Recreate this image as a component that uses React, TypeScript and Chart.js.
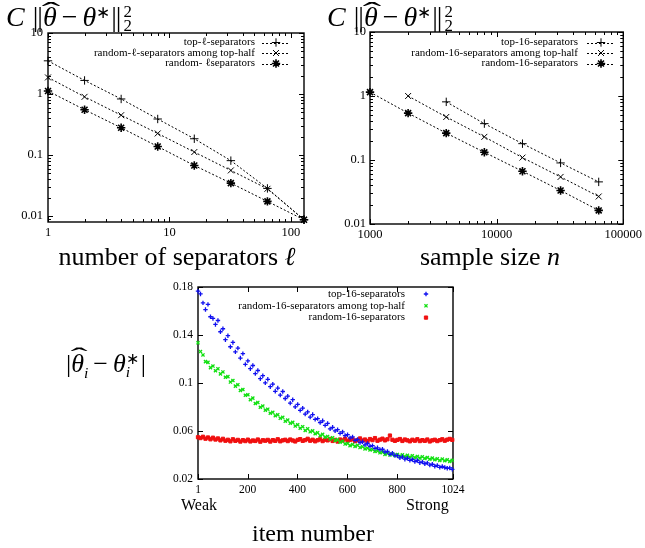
import React, { useEffect, useRef } from 'react';
import { Chart, registerables } from 'chart.js';
import { drawPoint } from 'chart.js/helpers';

Chart.register(...registerables);

const W = 645;
const H = 548;
const SERIF = '"Liberation Serif", "Times New Roman", serif';

// ---------- top-left: error vs number of separators ----------
const SEP_L = [1, 2, 4, 8, 16, 32, 64, 128];
const SEP_TOP = [3.5, 1.67, 0.83, 0.39, 0.185, 0.081, 0.0284, 0.0087];
const SEP_TOPHALF = [1.87, 0.9, 0.45, 0.226, 0.112, 0.056, 0.028, 0.0087];
const SEP_RANDOM = [1.12, 0.553, 0.28, 0.138, 0.0675, 0.0347, 0.0174, 0.0087];
const SEP_X_TICKS = [1, 10, 100];
const SEP_Y_TICKS = [0.01, 0.1, 1, 10];
const SEP_LABELS = ['top-ℓ-separators', 'random-ℓ-separators among top-half', 'random- ℓseparators'];

// ---------- top-right: error vs sample size ----------
const N_TOP_X = [4000, 8000, 16000, 32000, 64000];
const N_TOP = [0.81, 0.37, 0.18, 0.09, 0.0455];
const N_TOPHALF_X = [2000, 4000, 8000, 16000, 32000, 64000];
const N_TOPHALF = [1.0, 0.47, 0.23, 0.109, 0.0544, 0.0269];
const N_RANDOM_X = [1000, 2000, 4000, 8000, 16000, 32000, 64000];
const N_RANDOM = [1.15, 0.54, 0.263, 0.132, 0.0667, 0.0334, 0.0163];
const N_X_TICKS = [1000, 10000, 100000];
const N_Y_TICKS = [0.01, 0.1, 1, 10];
const N_LABELS = ['top-16-separators', 'random-16-separators among top-half', 'random-16-separators'];

// ---------- bottom: per-item error ----------
const ITEMS = Array.from({ length: 103 }, (_, k) => 1 + 10 * k);
const ITEM_TOP = [
  0.1765, 0.1742, 0.1668, 0.1612, 0.1655, 0.1552, 0.1538, 0.1488, 0.1521, 0.1427,
  0.1452, 0.1361, 0.1394, 0.1302, 0.1338, 0.1259, 0.1291, 0.1208, 0.1245, 0.1155,
  0.1184, 0.1119, 0.1146, 0.1078, 0.1104, 0.1036, 0.1061, 0.1001, 0.1031, 0.0969,
  0.0991, 0.0931, 0.0958, 0.0899, 0.0929, 0.0871, 0.0891, 0.0832, 0.0861, 0.0801,
  0.0822, 0.0772, 0.0791, 0.0741, 0.0759, 0.0716, 0.0737, 0.0697, 0.0703, 0.0671,
  0.0685, 0.0647, 0.0663, 0.0618, 0.0631, 0.0601, 0.0611, 0.0581, 0.0592, 0.0562,
  0.0569, 0.0542, 0.0551, 0.0522, 0.0529, 0.0504, 0.0510, 0.0485, 0.0496, 0.0473,
  0.0478, 0.0455, 0.0460, 0.0445, 0.0448, 0.0425, 0.0429, 0.0406, 0.0415, 0.0396,
  0.0394, 0.0376, 0.0385, 0.0365, 0.0373, 0.0355, 0.0363, 0.0346, 0.0354, 0.0336,
  0.0343, 0.0327, 0.0334, 0.0316, 0.0323, 0.0306, 0.0313, 0.0297, 0.0304, 0.0296,
  0.0289, 0.0292, 0.0281,
];
const ITEM_TOPHALF = [
  0.1335, 0.1262, 0.1234, 0.1178, 0.1172, 0.1128, 0.1141, 0.1102, 0.1118, 0.1076,
  0.1092, 0.1048, 0.1053, 0.1008, 0.1021, 0.0974, 0.0986, 0.0938, 0.0946, 0.0898,
  0.0902, 0.0861, 0.0874, 0.0829, 0.0838, 0.0798, 0.0808, 0.0774, 0.0782, 0.0748,
  0.0756, 0.0727, 0.0736, 0.0706, 0.0714, 0.0682, 0.0691, 0.0664, 0.0672, 0.0641,
  0.0652, 0.0623, 0.0636, 0.0604, 0.0618, 0.0593, 0.0601, 0.0577, 0.0586, 0.0561,
  0.0572, 0.0548, 0.0555, 0.0533, 0.0544, 0.0521, 0.0528, 0.0507, 0.0514, 0.0491,
  0.0496, 0.0478, 0.0488, 0.0472, 0.0481, 0.0462, 0.0469, 0.0451, 0.0457, 0.0442,
  0.0446, 0.0429, 0.0433, 0.0418, 0.0424, 0.0405, 0.0414, 0.0401, 0.0409, 0.0396,
  0.0405, 0.0392, 0.0401, 0.0388, 0.0397, 0.0384, 0.0394, 0.0379, 0.0388, 0.0374,
  0.0385, 0.0371, 0.0379, 0.0365, 0.0374, 0.0361, 0.0368, 0.0354, 0.0366, 0.0352,
  0.0361, 0.0347, 0.0356,
];
const ITEM_RANDOM = [
  0.0548, 0.0541, 0.0552, 0.0536, 0.0546, 0.0531, 0.0544, 0.0529, 0.0538, 0.0522,
  0.0535, 0.0519, 0.0527, 0.0514, 0.0531, 0.0518, 0.0526, 0.0512, 0.0524, 0.0516,
  0.0528, 0.0513, 0.0521, 0.0517, 0.0529, 0.0511, 0.0523, 0.0519, 0.0526, 0.0512,
  0.0524, 0.0518, 0.0531, 0.0514, 0.0522, 0.0527, 0.0516, 0.0529, 0.0521, 0.0513,
  0.0526, 0.0532, 0.0518, 0.0524, 0.0535, 0.0519, 0.0527, 0.0514, 0.0523, 0.0531,
  0.0516, 0.0528, 0.0522, 0.0534, 0.0517, 0.0526, 0.0512, 0.0529, 0.0521, 0.0536,
  0.0518, 0.0527, 0.0531, 0.0515, 0.0524, 0.0538, 0.0521, 0.0529, 0.0516, 0.0533,
  0.0524, 0.0541, 0.0519, 0.0528, 0.0536, 0.0522, 0.0531, 0.0562, 0.0527, 0.0518,
  0.0526, 0.0533, 0.0517, 0.0529, 0.0522, 0.0514, 0.0527, 0.0519, 0.0531, 0.0516,
  0.0524, 0.0518, 0.0529, 0.0513, 0.0522, 0.0527, 0.0516, 0.0524, 0.0531, 0.0519,
  0.0528, 0.0534, 0.0526,
];
const ITEM_X_TICKS = [1, 200, 400, 600, 800, 1024];
const ITEM_Y_TICKS = [0.02, 0.06, 0.1, 0.14, 0.18];

// ---------- helpers ----------
function logMinors(min: number, max: number) {
  const out: number[] = [];
  for (let e = Math.floor(Math.log10(min)); e <= Math.ceil(Math.log10(max)); e++) {
    for (let m = 2; m <= 9; m++) {
      const v = m * Math.pow(10, e);
      if (v > min * 1.0001 && v < max * 0.9999) out.push(v);
    }
  }
  return out;
}

const framePlugin = {
  id: 'gframe',
  beforeDatasetsDraw(chart: any, _a: any, o: any) {
    const { ctx, chartArea: a, scales } = chart;
    ctx.save();
    ctx.strokeStyle = '#000';
    ctx.lineWidth = 1;
    const seg = (x1: number, y1: number, x2: number, y2: number) => {
      ctx.beginPath();
      ctx.moveTo(x1, y1);
      ctx.lineTo(x2, y2);
      ctx.stroke();
    };
    const xt = (vals: number[], len: number) => {
      for (const v of vals) {
        const p = Math.round(scales.x.getPixelForValue(v)) + 0.5;
        seg(p, a.bottom, p, a.bottom - len);
        seg(p, a.top, p, a.top + len);
      }
    };
    const yt = (vals: number[], len: number) => {
      for (const v of vals) {
        const p = Math.round(scales.y.getPixelForValue(v)) + 0.5;
        seg(a.left, p, a.left + len, p);
        seg(a.right, p, a.right - len, p);
      }
    };
    xt(o.xMajor || [], 5);
    yt(o.yMajor || [], 5);
    if (o.logX) xt(logMinors(scales.x.min, scales.x.max), 3);
    if (o.logY) yt(logMinors(scales.y.min, scales.y.max), 3);
    ctx.lineWidth = 1.4;
    ctx.strokeRect(a.left, a.top, a.right - a.left, a.bottom - a.top);
    ctx.restore();
  },
};

const legendPlugin = {
  id: 'glegend',
  afterDatasetsDraw(chart: any, _a: any, o: any) {
    const ctx = chart.ctx;
    ctx.save();
    chart.data.datasets.forEach((ds: any, i: number) => {
      const y = o.y + i * o.rowH;
      ctx.font = '11px ' + SERIF;
      ctx.fillStyle = '#000';
      ctx.textAlign = 'right';
      ctx.textBaseline = 'middle';
      ctx.fillText(ds.label, o.textRight, y);
      if (o.lineX1 !== undefined && o.lineX1 !== null) {
        ctx.setLineDash([2, 2]);
        ctx.strokeStyle = ds.borderColor;
        ctx.lineWidth = 1;
        ctx.beginPath();
        ctx.moveTo(o.lineX1, Math.round(y) + 0.5);
        ctx.lineTo(o.lineX2, Math.round(y) + 0.5);
        ctx.stroke();
        ctx.setLineDash([]);
      }
      ctx.strokeStyle = ds.pointBorderColor;
      ctx.fillStyle = ds.pointBackgroundColor;
      ctx.lineWidth = ds.pointBorderWidth;
      drawPoint(ctx, { pointStyle: ds.pointStyle, radius: ds.pointRadius, rotation: 0, borderWidth: ds.pointBorderWidth } as any, o.markerX, y);
    });
    ctx.restore();
  },
};

type Area = { l: number; t: number; r: number; b: number };

function makeScale(type: string, min: number, max: number, ticks: number[], axis: 'x' | 'y', fontSize: number, pad: number) {
  return {
    type,
    min,
    max,
    bounds: 'data',
    grid: { display: false, drawTicks: false },
    border: { display: false },
    ticks: {
      color: '#000',
      font: { family: SERIF, size: fontSize },
      padding: pad,
      autoSkip: false,
      maxRotation: 0,
      callback: (v: any) => String(v),
    },
    afterFit: (s: any) => {
      if (axis === 'x') s.height = 20;
      else s.width = 40;
    },
    afterBuildTicks: (s: any) => {
      s.ticks = ticks.map((v) => ({ value: v }));
      s.min = min;
      s.max = max;
    },
  };
}

function buildChart(canvas: HTMLCanvasElement, cfg: any) {
  const a: Area = cfg.area;
  return new Chart(canvas, {
    type: 'scatter',
    data: { datasets: cfg.datasets },
    options: {
      animation: false,
      responsive: false,
      events: [],
      layout: { padding: { left: a.l - 40, top: a.t, right: W - a.r, bottom: H - a.b - 20 } },
      plugins: {
        legend: { display: false },
        tooltip: { enabled: false },
        gframe: cfg.frame,
        glegend: cfg.legend,
      } as any,
      scales: {
        x: makeScale(cfg.xType, cfg.xMin, cfg.xMax, cfg.xTicks, 'x', cfg.tickFont, cfg.xPad) as any,
        y: makeScale(cfg.yType, cfg.yMin, cfg.yMax, cfg.yTicks, 'y', cfg.tickFont, cfg.yPad) as any,
      },
    },
    plugins: [framePlugin, legendPlugin],
  });
}

function lineSet(label: string, xs: number[], ys: number[], style: string, bw = 1) {
  return {
    label,
    data: xs.map((x, i) => ({ x, y: ys[i] })),
    showLine: true,
    borderColor: '#000',
    backgroundColor: '#000',
    borderWidth: 1,
    borderDash: [2, 2],
    tension: 0,
    pointStyle: style,
    pointRadius: 4.2,
    pointBorderWidth: bw,
    pointBorderColor: '#000',
    pointBackgroundColor: '#000',
    clip: false,
  };
}

function dotSet(label: string, xs: number[], ys: number[], style: string, color: string, r: number, bw: number) {
  return {
    label,
    data: xs.map((x, i) => ({ x, y: ys[i] })),
    showLine: false,
    borderColor: color,
    backgroundColor: color,
    pointStyle: style,
    pointRadius: r,
    pointBorderWidth: bw,
    pointBorderColor: color,
    pointBackgroundColor: color,
    clip: false,
  };
}

const abs = (s: any) => ({ position: 'absolute' as const, whiteSpace: 'nowrap' as const, fontFamily: SERIF, color: '#000', ...s });

function Hat({ children, top }: { children: any; top: string }) {
  return (
    <span style={{ position: 'relative', display: 'inline-block' }}>
      <i>{children}</i>
      <span
        style={{
          position: 'absolute',
          left: '58%',
          top,
          transform: 'translateX(-50%) scale(2.2, 1)',
          fontStyle: 'normal',
          fontSize: '0.9em',
        }}
      >
        ˆ
      </span>
    </span>
  );
}

function Bars() {
  return <span style={{ letterSpacing: -1, margin: '0 1px' }}>||</span>;
}

function Stack() {
  return (
    <span style={{ display: 'inline-block', verticalAlign: '-0.32em', lineHeight: 0.85, fontSize: '0.6em', marginLeft: 2 }}>
      <span style={{ display: 'block' }}>2</span>
      <span style={{ display: 'block' }}>2</span>
    </span>
  );
}

function Title({ left }: { left: number }) {
  return (
    <div style={abs({ left, top: -3, fontSize: 28, lineHeight: '32px' })}>
      <i>C</i>
      <span style={{ marginLeft: 7 }} />
      <Bars />
      <Hat top="-0.2em">θ</Hat>
      <span style={{ margin: '0 5px' }}>−</span>
      <i>θ</i>
      <sup style={{ fontSize: '0.6em', verticalAlign: '0.45em' }}>∗</sup>
      <Bars />
      <Stack />
    </div>
  );
}

export default function App() {
  const c1 = useRef<HTMLCanvasElement>(null);
  const c2 = useRef<HTMLCanvasElement>(null);
  const c3 = useRef<HTMLCanvasElement>(null);

  useEffect(() => {
    const charts: Chart[] = [];
    charts.push(
      buildChart(c1.current!, {
        area: { l: 48, t: 33, r: 304, b: 222 },
        tickFont: 12.5, xPad: 3, yPad: 5,
        xType: 'logarithmic', xMin: 1, xMax: 128, xTicks: SEP_X_TICKS,
        yType: 'logarithmic', yMin: 0.008, yMax: 10, yTicks: SEP_Y_TICKS,
        frame: { xMajor: SEP_X_TICKS, yMajor: SEP_Y_TICKS, logX: true, logY: true },
        legend: { textRight: 255, y: 42.5, rowH: 10.5, lineX1: 262, lineX2: 290, markerX: 276 },
        datasets: [
          lineSet(SEP_LABELS[0], SEP_L, SEP_TOP, 'cross'),
          lineSet(SEP_LABELS[1], SEP_L, SEP_TOPHALF, 'crossRot'),
          lineSet(SEP_LABELS[2], SEP_L, SEP_RANDOM, 'star', 1.6),
        ],
      })
    );
    charts.push(
      buildChart(c2.current!, {
        area: { l: 370, t: 32, r: 627, b: 224 },
        tickFont: 12.5, xPad: 3, yPad: 4,
        xType: 'logarithmic', xMin: 1000, xMax: 100000, xTicks: N_X_TICKS,
        yType: 'logarithmic', yMin: 0.01, yMax: 10, yTicks: N_Y_TICKS,
        frame: { xMajor: N_X_TICKS, yMajor: N_Y_TICKS, logX: true, logY: true },
        legend: { textRight: 578, y: 42.5, rowH: 10.5, lineX1: 587, lineX2: 615, markerX: 601 },
        datasets: [
          lineSet(N_LABELS[0], N_TOP_X, N_TOP, 'cross'),
          lineSet(N_LABELS[1], N_TOPHALF_X, N_TOPHALF, 'crossRot'),
          lineSet(N_LABELS[2], N_RANDOM_X, N_RANDOM, 'star', 1.6),
        ],
      })
    );
    charts.push(
      buildChart(c3.current!, {
        area: { l: 198, t: 287, r: 453, b: 479 },
        tickFont: 11.5, xPad: 4, yPad: 5,
        xType: 'linear', xMin: 1, xMax: 1024, xTicks: ITEM_X_TICKS,
        yType: 'linear', yMin: 0.02, yMax: 0.18, yTicks: ITEM_Y_TICKS,
        frame: { xMajor: ITEM_X_TICKS, yMajor: ITEM_Y_TICKS, logX: false, logY: false },
        legend: { textRight: 405, y: 294, rowH: 11.8, markerX: 426 },
        datasets: [
          dotSet(N_LABELS[0], ITEMS, ITEM_TOP, 'cross', '#1010f0', 2.2, 1.3),
          dotSet(N_LABELS[1], ITEMS, ITEM_TOPHALF, 'crossRot', '#10e010', 2.2, 1.3),
          dotSet(N_LABELS[2], ITEMS, ITEM_RANDOM, 'rect', '#f01010', 2.3, 1),
        ],
      })
    );
    return () => charts.forEach((c) => c.destroy());
  }, []);

  const cv = { position: 'absolute' as const, left: 0, top: 0, width: W, height: H, display: 'block' };

  return (
    <div style={{ position: 'absolute', left: 0, top: 0, width: W, height: H, overflow: 'hidden', background: '#fff' }}>
      <canvas ref={c1} width={W} height={H} style={cv} />
      <canvas ref={c2} width={W} height={H} style={cv} />
      <canvas ref={c3} width={W} height={H} style={cv} />
      <Title left={6} />
      <Title left={327} />
      <div style={abs({ left: 27, width: 300, top: 244, fontSize: 26, lineHeight: '26px', textAlign: 'center' })}>
        number of separators <i>ℓ</i>
      </div>
      <div style={abs({ left: 340, width: 300, top: 244, fontSize: 26, lineHeight: '26px', textAlign: 'center' })}>
        sample size <i>n</i>
      </div>
      <div style={abs({ left: 66, top: 351, fontSize: 26, lineHeight: '26px' })}>
        |<Hat top="-0.36em">θ</Hat>
        <sub style={{ fontSize: '0.6em' }}>
          <i>i</i>
        </sub>
        <span style={{ margin: '0 5px' }}>−</span>
        <i>θ</i>
        <span style={{ display: 'inline-block', verticalAlign: '-0.3em', lineHeight: 0.8, fontSize: '0.6em' }}>
          <span style={{ display: 'block' }}>∗</span>
          <span style={{ display: 'block' }}>
            <i>i</i>
          </span>
        </span>
        <span style={{ marginLeft: 2 }}>|</span>
      </div>
      <div style={abs({ left: 181, top: 497, fontSize: 16, lineHeight: '16px' })}>Weak</div>
      <div style={abs({ left: 406, top: 497, fontSize: 16, lineHeight: '16px' })}>Strong</div>
      <div style={abs({ left: 163, width: 300, top: 521, fontSize: 24, lineHeight: '24px', textAlign: 'center' })}>
        item number
      </div>
    </div>
  );
}
